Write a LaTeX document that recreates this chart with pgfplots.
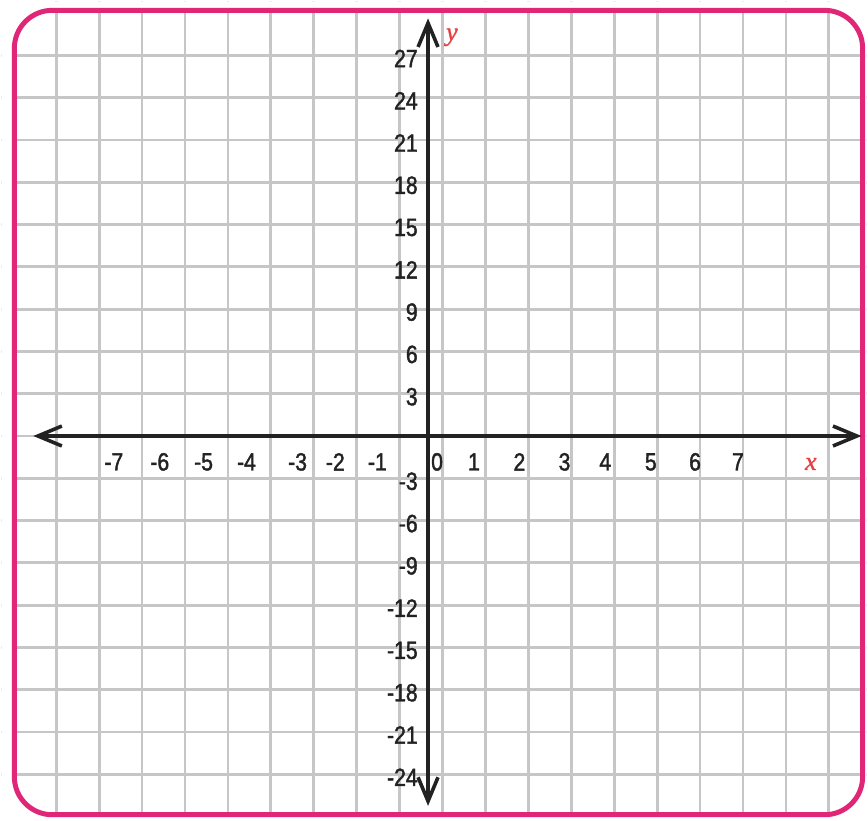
\documentclass[border=0pt]{standalone}
\usepackage{fontspec}
\usepackage{pgfplots}
\pgfplotsset{compat=1.18}
\usetikzlibrary{arrows.meta}
\newfontfamily\tickfont{Liberation Sans}[FakeStretch=0.85, FakeBold=1.6]
\newfontfamily\axisletter{Liberation Serif}[FakeBold=1.2]
\definecolor{framepink}{RGB}{224,38,118}
\definecolor{gridgray}{RGB}{198,198,198}
\definecolor{axisdark}{RGB}{34,34,34}
\definecolor{labelred}{RGB}{228,66,66}

\begin{document}
\begin{tikzpicture}
\begin{axis}[
  scale only axis,
  width=434pt, height=410pt,
  xmin=-9.940, xmax=10.218,
  ymin=-27.157, ymax=30.835,
  enlargelimits=false,
  axis lines=middle,
  axis line style={draw=none},
  % labels sit where the clip art put them, grid lines are the minor ticks
  xtick={-7.32,-6.25,-5.23,-4.23,-3.04,-2.16,-1.18,0.21,1.07,2.13,3.18,4.13,5.19,6.22,7.22},
  xticklabels={-7,-6,-5,-4,-3,-2,-1,0,1,2,3,4,5,6,7},
  ytick={-24,-21,-18,-15,-12,-9,-6,-3,3,6,9,12,15,18,21,24,27},
  yticklabels={-24,-21,-18,-15,-12,-9,-6,-3,3,6,9,12,15,18,21,24,27},
  minor xtick={-8.662,-7.662,-6.662,-5.662,-4.662,-3.662,-2.662,-1.662,-0.662,
               0.338,1.338,2.338,3.338,4.338,5.338,6.338,7.338,8.338,9.338},
  minor ytick={-24,-21,-18,-15,-12,-9,-6,-3,0,3,6,9,12,15,18,21,24,27},
  grid=minor,
  minor grid style={gridgray, line width=1.4pt},
  major tick length=0pt, minor tick length=0pt,
  tick style={draw=none},
  xticklabel style={font=\tickfont\fontsize{12.5}{14}\selectfont, text=axisdark,
                    anchor=center, inner sep=0pt, yshift=-13pt},
  yticklabel style={font=\tickfont\fontsize{12.5}{14}\selectfont, text=axisdark,
                    anchor=east, inner sep=0pt, xshift=-5pt, yshift=-1.5pt},
  xlabel={\itshape x}, ylabel={\itshape y},
  xlabel style={at={(axis description cs:0.9355,0.4341)}, anchor=center,
                text=labelred, font=\axisletter\fontsize{13}{14}\selectfont},
  ylabel style={at={(axis description cs:0.5207,0.956)}, anchor=center,
                text=labelred, font=\axisletter\fontsize{13}{14}\selectfont},
]
% white outside the rounded frame, then the frame itself
\fill[white, even odd rule] (rel axis cs:0,0) rectangle (rel axis cs:1,1)
  [rounded corners=19pt] (axis cs:-9.638,-26.87) rectangle (axis cs:10.125,30.20);
\draw[framepink, line width=2.5pt, rounded corners=19pt]
  (axis cs:-9.638,-26.87) rectangle (axis cs:10.125,30.20);
% the two axes with open arrow heads
\addplot[axisdark, line width=1.8pt, no markers,
  {Straight Barb[length=12pt,width=10pt]}-{Straight Barb[length=12pt,width=10pt]}]
  coordinates {(-9.197,0) (10.10,0)};
\addplot[axisdark, line width=1.8pt, no markers,
  {Straight Barb[length=12pt,width=10pt]}-{Straight Barb[length=12pt,width=10pt]}]
  coordinates {(0,-26.24) (0,29.63)};
\end{axis}
\end{tikzpicture}
\end{document}
